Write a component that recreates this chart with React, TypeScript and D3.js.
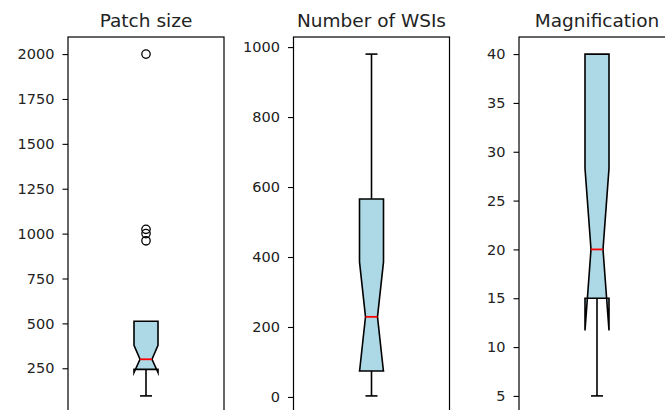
import React, { useEffect, useRef } from 'react';
import * as d3 from 'd3';

// Panel data (one entry per subplot)
const titles = ['Patch size', 'Number of WSIs', 'Magnification'];
const whiskerLow = [96, 3, 5];
const q1 = [244, 74, 15];
const median = [300, 229, 20];
const q3 = [512, 566, 40];
const whiskerHigh = [512, 980, 40];
const notchLow = [226, 72, 11.7];
const notchHigh = [378, 386, 28.3];
const outliers = [[2000, 1024, 1000, 960], [], []];
const tickValues = [
  [250, 500, 750, 1000, 1250, 1500, 1750, 2000],
  [0, 200, 400, 600, 800, 1000],
  [5, 10, 15, 20, 25, 30, 35, 40],
];

export default function App() {
  const ref = useRef<SVGSVGElement>(null);

  useEffect(() => {
    const width = 665;
    const height = 410;
    const top = 37;
    const bottom = 413;
    const axW = 156;
    const step = 225.5;
    const firstLeft = 68;
    const boxW = 24;

    const svg = d3.select(ref.current)
      .attr('width', width)
      .attr('height', height);
    svg.selectAll('*').remove();

    titles.forEach((title, i) => {
      const left = firstLeft + i * step;
      const g = svg.append('g');

      const lo = d3.min([whiskerLow[i], ...outliers[i]]) as number;
      const hi = d3.max([whiskerHigh[i], ...outliers[i]]) as number;
      const pad = (hi - lo) * 0.05;

      const yScale = d3.scaleLinear()
        .domain([lo - pad, hi + pad])
        .range([bottom, top]);

      const xScale = d3.scaleLinear()
        .domain([0.5, 1.5])
        .range([left, left + axW]);

      // frame
      g.append('rect')
        .attr('x', left)
        .attr('y', top)
        .attr('width', axW)
        .attr('height', bottom - top)
        .attr('fill', 'none')
        .attr('stroke', '#000')
        .attr('stroke-width', 1.2);

      // y axis
      const axis = g.append('g')
        .attr('transform', `translate(${left}, 0)`)
        .call(d3.axisLeft(yScale).tickValues(tickValues[i]).tickSize(5.5).tickPadding(8).tickFormat(d3.format('d')));
      axis.select('.domain').remove();
      axis.selectAll('line').attr('stroke', '#000').attr('stroke-width', 1.1);
      axis.selectAll('text')
        .attr('fill', '#222')
        .style('font-family', '"DejaVu Sans", sans-serif')
        .style('font-size', '14.5px');

      // title
      g.append('text')
        .attr('x', left + axW / 2)
        .attr('y', 27)
        .attr('text-anchor', 'middle')
        .attr('fill', '#222')
        .style('font-family', '"DejaVu Sans", sans-serif')
        .style('font-size', '18.5px')
        .text(title);

      const cx = xScale(1);
      const bl = cx - boxW / 2;
      const br = cx + boxW / 2;
      const nl = cx - boxW / 4;
      const nr = cx + boxW / 4;

      // whiskers + caps
      [[q1[i], whiskerLow[i]], [q3[i], whiskerHigh[i]]].forEach(([a, b]) => {
        if (a === b) return;
        g.append('line')
          .attr('x1', cx).attr('x2', cx)
          .attr('y1', yScale(a)).attr('y2', yScale(b))
          .attr('stroke', '#000').attr('stroke-width', 1.6);
        g.append('line')
          .attr('x1', cx - boxW / 4).attr('x2', cx + boxW / 4)
          .attr('y1', yScale(b)).attr('y2', yScale(b))
          .attr('stroke', '#000').attr('stroke-width', 1.6);
      });

      // notched box
      const pts: [number, number][] = [
        [bl, q1[i]], [bl, notchLow[i]], [nl, median[i]], [bl, notchHigh[i]], [bl, q3[i]],
        [br, q3[i]], [br, notchHigh[i]], [nr, median[i]], [br, notchLow[i]], [br, q1[i]],
      ];
      const line = d3.line<[number, number]>()
        .x(d => d[0])
        .y(d => yScale(d[1]));
      g.append('path')
        .attr('d', line(pts) + 'Z')
        .attr('fill', '#add8e6')
        .attr('stroke', '#000')
        .attr('stroke-width', 1.6)
        .attr('stroke-linejoin', 'miter')
        .attr('stroke-miterlimit', 10);

      // median
      g.append('line')
        .attr('x1', nl).attr('x2', nr)
        .attr('y1', yScale(median[i])).attr('y2', yScale(median[i]))
        .attr('stroke', 'red').attr('stroke-width', 1.8);

      // fliers
      g.selectAll('.flier')
        .data(outliers[i])
        .join('circle')
        .attr('class', 'flier')
        .attr('cx', cx)
        .attr('cy', d => yScale(d))
        .attr('r', 4.2)
        .attr('fill', 'none')
        .attr('stroke', '#000')
        .attr('stroke-width', 1.3);
    });
  }, []);

  return (
    <svg ref={ref} style={{ position: 'fixed', left: 0, top: 0, background: '#fff' }} />
  );
}
